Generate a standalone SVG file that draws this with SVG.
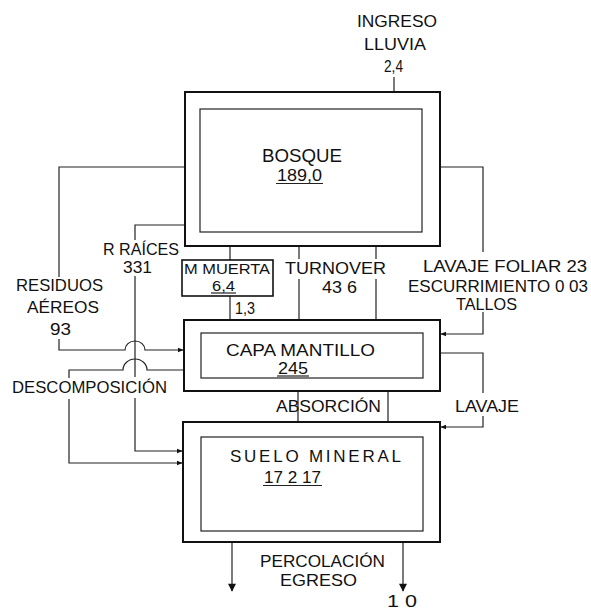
<svg xmlns="http://www.w3.org/2000/svg" width="591" height="611" viewBox="0 0 591 611">
<style>
text{font-family:"Liberation Sans","DejaVu Sans",sans-serif;font-size:17px;fill:#111}
.big{font-size:19px}
.sm{font-size:15.5px}
.outer{fill:none;stroke:#111;stroke-width:2}
.inner{fill:none;stroke:#222;stroke-width:1.2}
.ln{fill:none;stroke:#222;stroke-width:1.2}
.ul{stroke:#222;stroke-width:1.2}
</style>
<defs>
<marker id="ah" viewBox="0 0 10 10" refX="9" refY="5" markerWidth="6" markerHeight="6" orient="auto" markerUnits="userSpaceOnUse">
<path d="M0,1 L10,5 L0,9 Z" fill="#111"/>
</marker>
<marker id="ahd" viewBox="0 0 10 10" refX="9" refY="5" markerWidth="9" markerHeight="8" orient="auto" markerUnits="userSpaceOnUse">
<path d="M0,0 L10,5 L0,10 Z" fill="#111"/>
</marker>
</defs>
<rect width="591" height="611" fill="#fff"/>

<g id="connectors">
<path class="ln" d="M394,77 V92"/>
<path class="ln" d="M185,167 H59 V277 M59,339 V350 H125 A10 9 0 0 1 145 350 H183" marker-end="url(#ah)"/>
<path class="ln" d="M185,225 H135 V240 M135,276 V377 M135,398 V451 H182" marker-end="url(#ah)"/>
<path class="ln" d="M184,370 H147 A12 11 0 0 0 123 370 H69 V378 M69,399 V463 H182" marker-end="url(#ah)"/>
<path class="ln" d="M230,246 V260 M230,296 V320"/>
<path class="ln" d="M299,246 V259 M299,279 V320 M376,246 V259 M376,279 V320"/>
<path class="ln" d="M298,391 V422 M388,391 V422"/>
<path class="ln" d="M440,167 H483 V252 M483,312 V334 H441" marker-end="url(#ah)"/>
<path class="ln" d="M440,353 H483 V393 M483,416 V427 H441" marker-end="url(#ah)"/>
<path class="ln" d="M232,542 V591" marker-end="url(#ahd)"/>
<path class="ln" d="M403,542 V591" marker-end="url(#ahd)"/>
</g>

<g id="ingreso">
<text x="357" y="27" textLength="80" lengthAdjust="spacingAndGlyphs">INGRESO</text>
<text x="364" y="50" textLength="62" lengthAdjust="spacingAndGlyphs">LLUVIA</text>
<text x="384" y="72" textLength="19" lengthAdjust="spacingAndGlyphs">2,4</text>
</g>

<g id="bosque">
<rect class="outer" x="185" y="92" width="255" height="154"/>
<rect class="inner" x="200" y="109" width="222" height="123"/>
<text class="big" x="262" y="162" textLength="80" lengthAdjust="spacingAndGlyphs">BOSQUE</text>
<text x="277" y="181" textLength="45" lengthAdjust="spacingAndGlyphs">189,0</text>
<line class="ul" x1="276" y1="183.5" x2="323" y2="183.5"/>
</g>

<g id="mmuerta">
<rect class="outer" x="182" y="260" width="91" height="36" style="stroke-width:1.6"/>
<text class="sm" x="184" y="274" textLength="86" lengthAdjust="spacingAndGlyphs">M MUERTA</text>
<text class="sm" x="212" y="291" textLength="23" lengthAdjust="spacingAndGlyphs">6,4</text>
<line class="ul" x1="211" y1="293" x2="236" y2="293"/>
</g>

<g id="capa">
<rect class="outer" x="184" y="320" width="256" height="71"/>
<rect class="inner" x="201" y="333" width="222" height="45"/>
<text x="226" y="356" textLength="149" lengthAdjust="spacingAndGlyphs">CAPA MANTILLO</text>
<text x="278" y="374" textLength="30" lengthAdjust="spacingAndGlyphs">245</text>
<line class="ul" x1="277" y1="376" x2="309" y2="376"/>
</g>

<g id="suelo">
<rect class="outer" x="183" y="422" width="257" height="120"/>
<rect class="inner" x="201" y="437" width="222" height="94"/>
<text x="230" y="462" textLength="171" lengthAdjust="spacing">SUELO  MINERAL</text>
<text x="264" y="483" textLength="57" lengthAdjust="spacingAndGlyphs">17 2 17</text>
<line class="ul" x1="263" y1="485.5" x2="322" y2="485.5"/>
</g>

<g id="labels">
<text x="103" y="255" textLength="76" lengthAdjust="spacingAndGlyphs">R RAÍCES</text>
<text x="123" y="273" textLength="29" lengthAdjust="spacingAndGlyphs">331</text>
<text x="16" y="291" textLength="87" lengthAdjust="spacingAndGlyphs">RESIDUOS</text>
<text x="27" y="313" textLength="72" lengthAdjust="spacingAndGlyphs">AÉREOS</text>
<text x="50" y="335" textLength="21" lengthAdjust="spacingAndGlyphs">93</text>
<text x="235" y="314" textLength="20" lengthAdjust="spacingAndGlyphs">1,3</text>
<text x="285" y="274" textLength="101" lengthAdjust="spacingAndGlyphs">TURNOVER</text>
<text x="322" y="293" textLength="35" lengthAdjust="spacingAndGlyphs">43 6</text>
<text x="423" y="272" textLength="164" lengthAdjust="spacingAndGlyphs">LAVAJE FOLIAR 23</text>
<text x="408" y="292" textLength="180" lengthAdjust="spacingAndGlyphs">ESCURRIMIENTO 0 03</text>
<text x="456" y="310" textLength="61" lengthAdjust="spacingAndGlyphs">TALLOS</text>
<text x="12" y="393" textLength="155" lengthAdjust="spacingAndGlyphs">DESCOMPOSICIÓN</text>
<text x="276" y="412" textLength="105" lengthAdjust="spacingAndGlyphs">ABSORCIÓN</text>
<text x="455" y="412" textLength="64" lengthAdjust="spacingAndGlyphs">LAVAJE</text>
<text x="260" y="567" textLength="125" lengthAdjust="spacingAndGlyphs">PERCOLACIÓN</text>
<text x="280" y="586" textLength="77" lengthAdjust="spacingAndGlyphs">EGRESO</text>
<text x="387" y="607" textLength="30" lengthAdjust="spacingAndGlyphs">1 0</text>
</g>
</svg>
